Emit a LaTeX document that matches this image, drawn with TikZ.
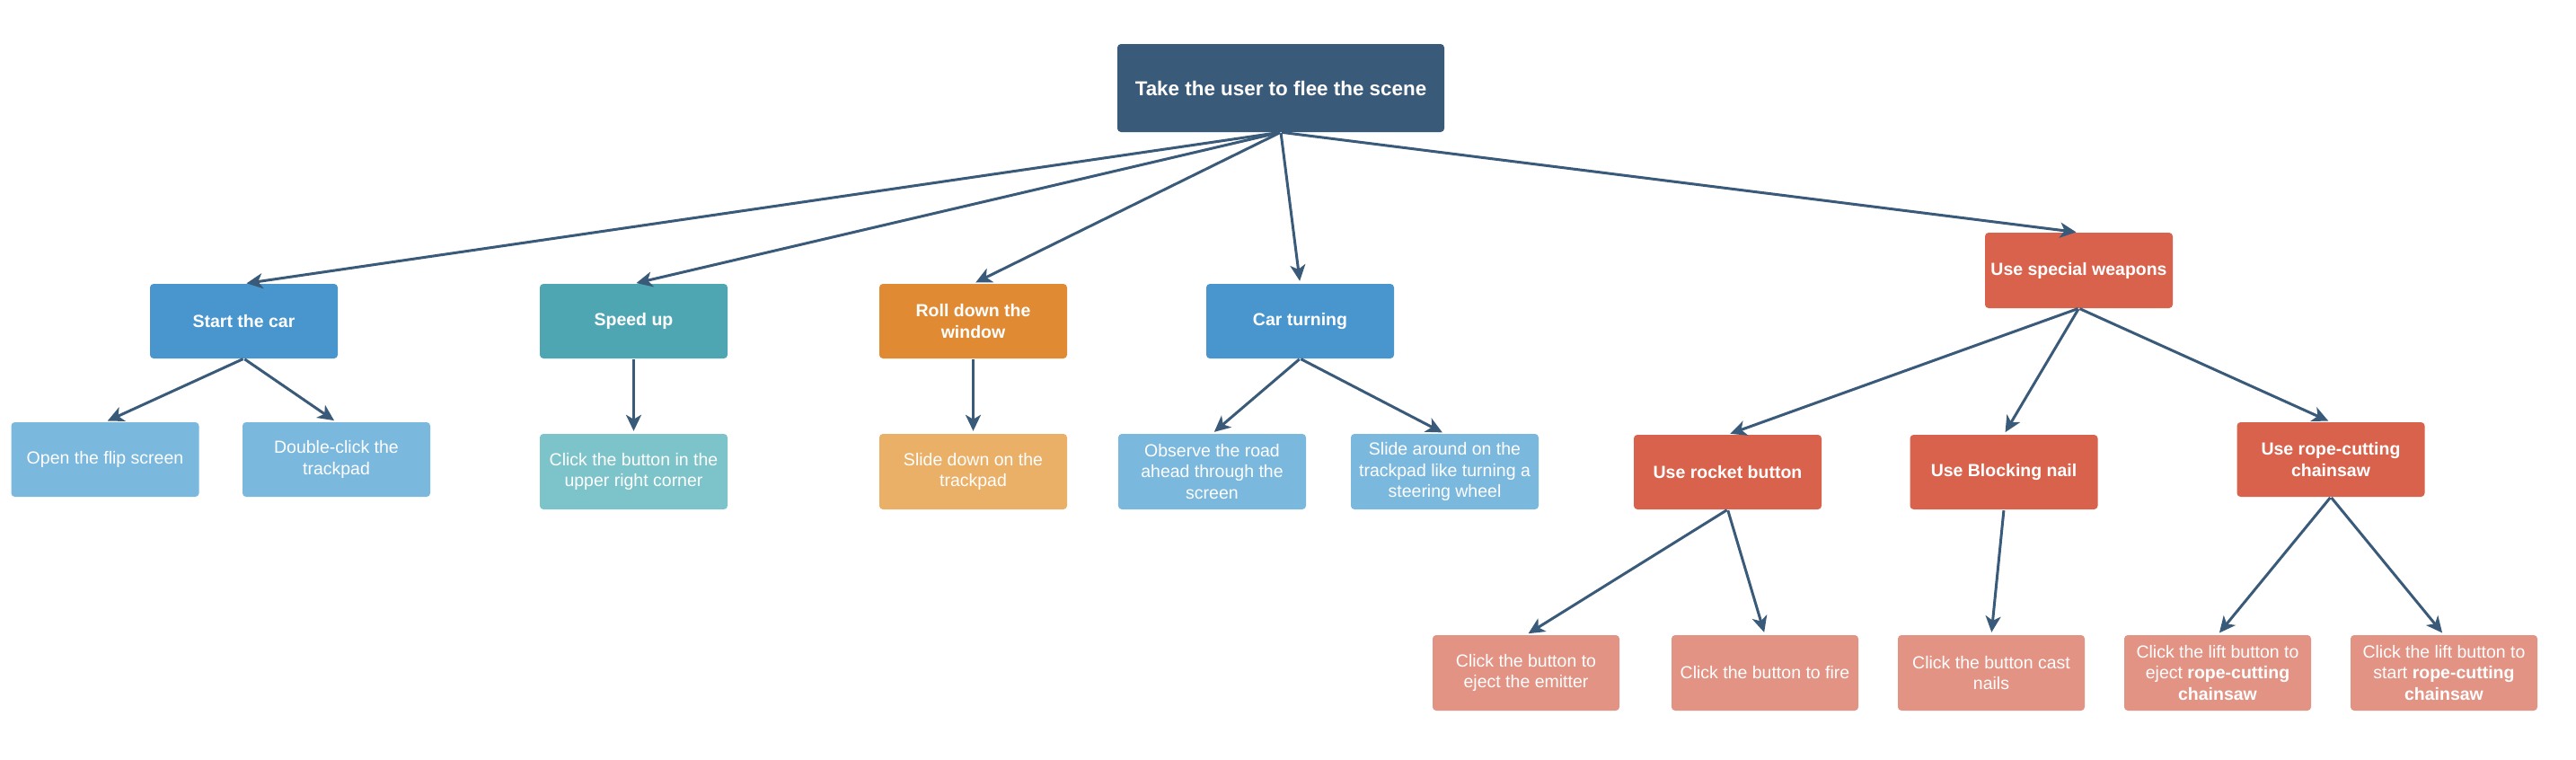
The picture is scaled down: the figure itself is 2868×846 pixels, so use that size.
\documentclass[tikz,border=0pt]{standalone}
\usepackage{fontspec}
\setmainfont{Liberation Sans}
\usetikzlibrary{arrows.meta}
\definecolor{cRoot}{HTML}{3A5A7A}
\definecolor{cBlue}{HTML}{4896CD}
\definecolor{cLBlue}{HTML}{7BB8DE}
\definecolor{cTeal}{HTML}{4FA6B3}
\definecolor{cLTeal}{HTML}{7CC4CA}
\definecolor{cOrange}{HTML}{E08B34}
\definecolor{cLOrange}{HTML}{EAB067}
\definecolor{cRed}{HTML}{D8624C}
\definecolor{cLRed}{HTML}{E29384}
\definecolor{cArrow}{HTML}{3A5A7A}
\tikzset{
  box/.style={rectangle, rounded corners=4pt, text=white, align=center, inner sep=2pt,
    font=\fontsize{19.5}{23.4}\selectfont, minimum height=83pt, minimum width=209pt},
  bbox/.style={box, font=\fontsize{19.5}{23.4}\selectfont\bfseries},
  conn/.style={draw=cArrow, line width=3pt, -{Stealth[length=18pt,width=17pt,inset=5pt]}, shorten >=3pt, shorten <=1pt}
}
\begin{document}
\begin{tikzpicture}[x=1pt,y=-1pt]
\useasboundingbox (0,0) rectangle (2868,846);
% root
\node[bbox, fill=cRoot, minimum width=364pt, minimum height=98pt, font=\fontsize{22.4}{27}\selectfont\bfseries] (root) at (1426,98) {Take the user to flee the scene};
% level 1
\node[bbox, fill=cBlue] (start) at (271.5,357.5) {Start the car};
\node[bbox, fill=cTeal] (speed) at (705.5,357.5) {Speed up};
\node[bbox, fill=cOrange] (roll) at (1083.5,357.5) {Roll down the\\window};
\node[bbox, fill=cBlue] (turn) at (1447.5,357.5) {Car turning};
\node[bbox, fill=cRed, minimum height=84pt] (weap) at (2314.5,301) {Use special weapons};
% level 2
\node[box, fill=cLBlue] (flip) at (117,511.5) {Open the flip screen};
\node[box, fill=cLBlue] (dbl) at (374.5,511.5) {Double-click the\\trackpad};
\node[box, fill=cLTeal, minimum height=84pt] (corner) at (705.5,525) {Click the button in the\\upper right corner};
\node[box, fill=cLOrange, minimum height=84pt] (slide) at (1083.5,525) {Slide down on the\\trackpad};
\node[box, fill=cLBlue, minimum height=84pt] (observe) at (1349.5,525) {Observe the road\\ahead through the\\screen};
\node[box, fill=cLBlue, minimum height=84pt] (around) at (1608.5,525) {Slide around on the\\trackpad like turning a\\steering wheel};
\node[bbox, fill=cRed] (rocket) at (1923.5,525.5) {Use rocket button};
\node[bbox, fill=cRed] (nail) at (2231,525.5) {Use Blocking nail};
\node[bbox, fill=cRed] (rope) at (2595,511.5) {Use rope-cutting\\chainsaw};
% level 3
\node[box, fill=cLRed, minimum height=84pt, minimum width=208pt] (emit) at (1699,749) {Click the button to\\eject the emitter};
\node[box, fill=cLRed, minimum height=84pt, minimum width=208pt] (fire) at (1965,749) {Click the button to fire};
\node[box, fill=cLRed, minimum height=84pt, minimum width=208pt] (cast) at (2217,749) {Click the button cast\\nails};
\node[box, fill=cLRed, minimum height=84pt, minimum width=208pt] (lifte) at (2469,749) {Click the lift button to\\eject \textbf{rope-cutting}\\\textbf{chainsaw}};
\node[box, fill=cLRed, minimum height=84pt, minimum width=208pt] (lifts) at (2721,749) {Click the lift button to\\start \textbf{rope-cutting}\\\textbf{chainsaw}};
% connectors
\foreach \c in {start,speed,roll,turn,weap} \draw[conn] (root.south) -- (\c.north);
\draw[conn] (start.south) -- (flip.north);
\draw[conn] (start.south) -- (dbl.north);
\draw[conn] (speed.south) -- (corner.north);
\draw[conn] (roll.south) -- (slide.north);
\draw[conn] (turn.south) -- (observe.north);
\draw[conn] (turn.south) -- (around.north);
\draw[conn] (weap.south) -- (rocket.north);
\draw[conn] (weap.south) -- (nail.north);
\draw[conn] (weap.south) -- (rope.north);
\draw[conn] (rocket.south) -- (emit.north);
\draw[conn] (rocket.south) -- (fire.north);
\draw[conn] (nail.south) -- (cast.north);
\draw[conn] (rope.south) -- (lifte.north);
\draw[conn] (rope.south) -- (lifts.north);
\end{tikzpicture}
\end{document}
